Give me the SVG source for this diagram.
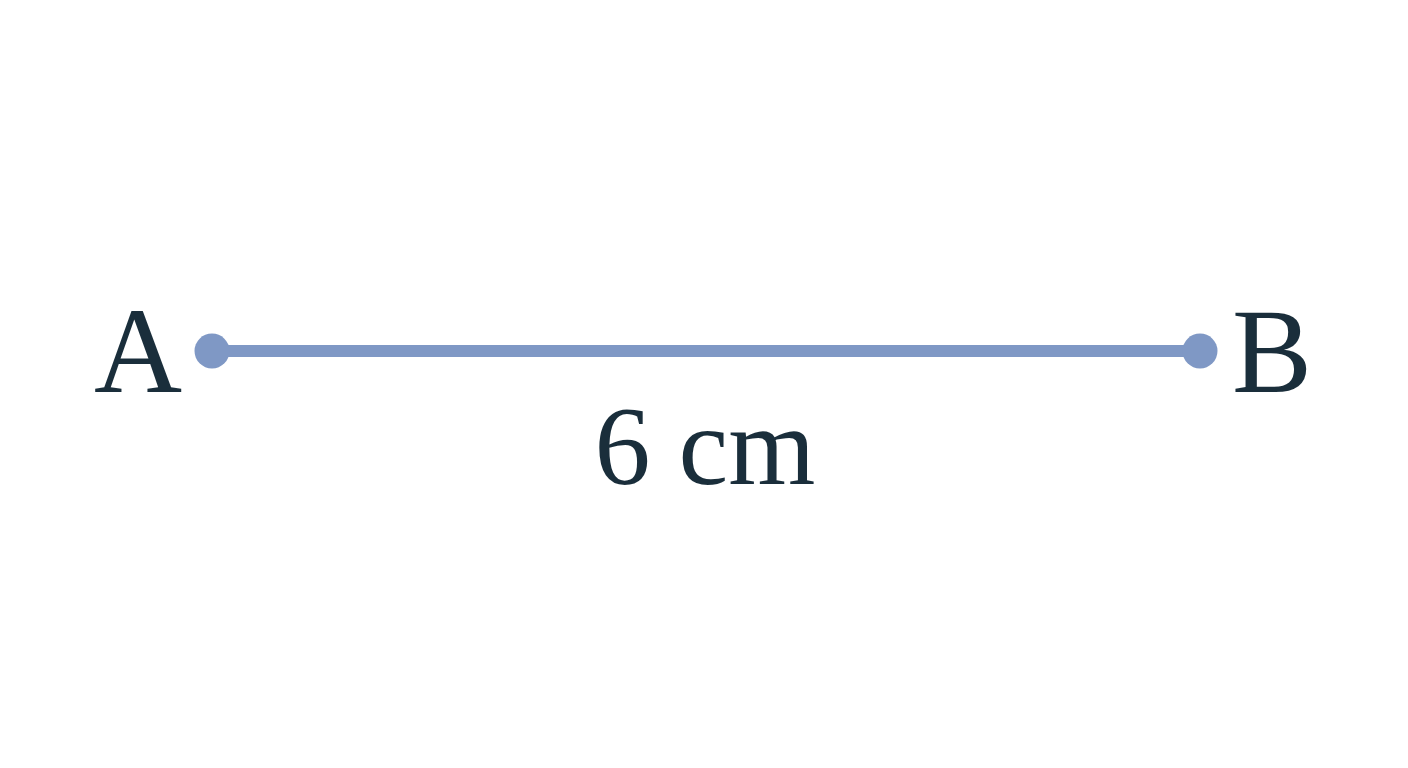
<svg xmlns="http://www.w3.org/2000/svg" width="1408" height="768" viewBox="0 0 1408 768">
<style>
.lbl{font-family:"Liberation Serif","Times New Roman",serif;fill:#1a2e3b}
.pt{fill:#7f98c5}
</style>
<rect width="1408" height="768" fill="#ffffff"/>
<g id="connectors">
<line x1="212" y1="351" x2="1200" y2="351" stroke="#7f98c5" stroke-width="12"/>
</g>
<g id="A">
<circle class="pt" cx="212" cy="351" r="17.5"/>
<text class="lbl" x="138" y="392" font-size="122" text-anchor="middle">A</text>
</g>
<g id="B">
<circle class="pt" cx="1200" cy="351" r="17.5"/>
<text class="lbl" x="1272" y="392" font-size="120" text-anchor="middle">B</text>
</g>
<g id="length">
<text class="lbl" x="705" y="484" font-size="112" text-anchor="middle">6 cm</text>
</g>
</svg>
